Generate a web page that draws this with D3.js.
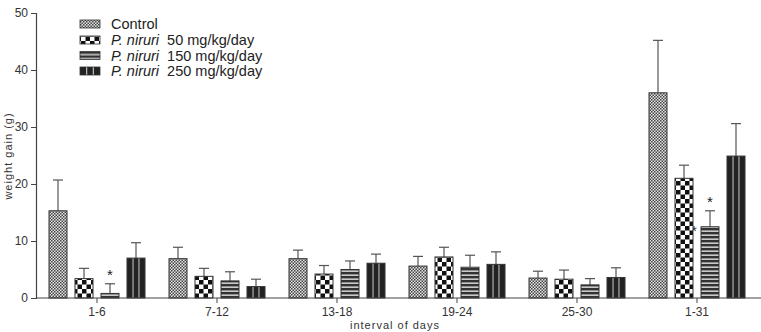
<!DOCTYPE html>
<html>
<head>
<meta charset="utf-8">
<script src="https://cdn.jsdelivr.net/npm/d3@7"></script>
<style>
  body { margin: 0; background: #fff; }
  svg { font-family: "Liberation Sans", Arial, sans-serif; }
</style>
</head>
<body>
<div id="chart"></div>
<script>
// data
var intervals = ["1-6", "7-12", "13-18", "19-24", "25-30", "1-31"]
var series = ["Control", "P50", "P150", "P250"]
var seriesLabels = [["", "Control"], ["P. niruri", " 50 mg/kg/day"], ["P. niruri", " 150 mg/kg/day"], ["P. niruri", " 250 mg/kg/day"]]
var control = [15.3, 6.9, 6.9, 5.6, 3.5, 36.0]
var p50 = [3.4, 3.8, 4.2, 7.2, 3.3, 21.0]
var p150 = [0.8, 3.0, 5.0, 5.4, 2.3, 12.5]
var p250 = [7.0, 2.0, 6.1, 5.9, 3.6, 24.9]
var controlErr = [5.4, 2.0, 1.5, 1.7, 1.2, 9.2]
var p50Err = [1.8, 1.4, 1.5, 1.7, 1.6, 2.3]
var p150Err = [1.7, 1.6, 1.5, 2.1, 1.1, 2.8]
var p250Err = [2.7, 1.3, 1.6, 2.2, 1.7, 5.7]
var yTicks = [0, 10, 20, 30, 40, 50]
// significance marks: [interval index, series index]
var stars = [[0, 2], [5, 2]]

var values = [control, p50, p150, p250]
var errs = [controlErr, p50Err, p150Err, p250Err]
var rows = []
intervals.forEach(function(iv, i) {
  series.forEach(function(s, j) {
    rows.push({ interval: iv, series: s, value: values[j][i], err: errs[j][i] })
  })
})

var W = 761, H = 332
var svg = d3.select("#chart").append("svg").attr("width", W).attr("height", H)
var defs = svg.append("defs")

// fill patterns
var pc = defs.append("pattern").attr("id", "pat-Control").attr("patternUnits", "userSpaceOnUse").attr("width", 3).attr("height", 3)
pc.append("rect").attr("width", 3).attr("height", 3).attr("fill", "#e4e4e4")
pc.append("rect").attr("width", 1.5).attr("height", 1.5).attr("fill", "#444")
pc.append("rect").attr("x", 1.5).attr("y", 1.5).attr("width", 1.5).attr("height", 1.5).attr("fill", "#444")

var p1 = defs.append("pattern").attr("id", "pat-P50").attr("patternUnits", "userSpaceOnUse").attr("width", 9).attr("height", 9).attr("x", 1).attr("y", 1)
p1.append("rect").attr("width", 9).attr("height", 9).attr("fill", "#fff")
p1.append("rect").attr("width", 4.5).attr("height", 4.5).attr("fill", "#111")
p1.append("rect").attr("x", 4.5).attr("y", 4.5).attr("width", 4.5).attr("height", 4.5).attr("fill", "#111")

var p2 = defs.append("pattern").attr("id", "pat-P150").attr("patternUnits", "userSpaceOnUse").attr("width", 4).attr("height", 4)
p2.append("rect").attr("width", 4).attr("height", 4).attr("fill", "#333")
p2.append("rect").attr("y", 2.5).attr("width", 4).attr("height", 1.3).attr("fill", "#eee")

var p3 = defs.append("pattern").attr("id", "pat-P250").attr("patternUnits", "objectBoundingBox").attr("patternContentUnits", "objectBoundingBox").attr("width", 1).attr("height", 1)
p3.append("rect").attr("width", 1).attr("height", 1).attr("fill", "#222")
p3.append("rect").attr("x", 0.31).attr("width", 0.05).attr("height", 1).attr("fill", "#ddd")
p3.append("rect").attr("x", 0.64).attr("width", 0.05).attr("height", 1).attr("fill", "#ddd")

var x0 = d3.scaleBand().domain(intervals).range([37, 757])
var x1 = d3.scaleBand().domain(series).range([-52, 52]).paddingInner(8 / 26).paddingOuter(4 / 26)
var y = d3.scaleLinear().domain([0, 50]).range([298, 13])

var center = function(d) { return x0(d.interval) + x0.bandwidth() / 2 + x1(d.series) + x1.bandwidth() / 2 }

// stars (drawn first so the bars may cover them)
var g_stars = svg.append("g")
stars.forEach(function(s) {
  var d = rows[s[0] * series.length + s[1]]
  g_stars.append("text").attr("x", center(d)).attr("y", y(d.value + d.err) - 4).attr("text-anchor", "middle")
    .attr("font-size", 15).attr("fill", "#222").text("*")
})
// partly hidden star next to the 1-31 150 mg bar
var d31 = rows[5 * series.length + 2]
g_stars.append("text").attr("x", center(d31) - 16).attr("y", y(d31.value) + 9).attr("text-anchor", "middle")
  .attr("font-size", 15).attr("fill", "#222").text("*")

// error bars
var g_err = svg.append("g").attr("stroke", "#555").attr("stroke-width", 1.2)
g_err.selectAll("line.v").data(rows).enter().append("line")
  .attr("x1", center).attr("x2", center)
  .attr("y1", function(d) { return y(d.value) }).attr("y2", function(d) { return y(d.value + d.err) })
g_err.selectAll("line.c").data(rows).enter().append("line")
  .attr("x1", function(d) { return center(d) - 5 }).attr("x2", function(d) { return center(d) + 5 })
  .attr("y1", function(d) { return y(d.value + d.err) }).attr("y2", function(d) { return y(d.value + d.err) })

// bars
svg.append("g").selectAll("rect").data(rows).enter().append("rect")
  .attr("x", function(d) { return center(d) - x1.bandwidth() / 2 })
  .attr("width", x1.bandwidth())
  .attr("y", function(d) { return y(d.value) })
  .attr("height", function(d) { return y(0) - y(d.value) })
  .attr("fill", function(d) { return "url(#pat-" + d.series + ")" })
  .attr("stroke", "#333").attr("stroke-width", 1)

// axes
var yAxis = svg.append("g").attr("transform", "translate(36,0)")
  .call(d3.axisLeft(y).tickValues(yTicks).tickSize(5).tickPadding(3))
yAxis.select(".domain").attr("stroke", "#444").attr("stroke-width", 1.2)
yAxis.selectAll(".tick line").attr("stroke", "#444")
yAxis.selectAll("text").attr("font-size", 12).attr("fill", "#333").attr("font-family", "Liberation Sans, Arial, sans-serif")

var xAxis = svg.append("g").attr("transform", "translate(0,298)")
  .call(d3.axisBottom(x0).tickSize(5).tickPadding(4).tickSizeOuter(0))
xAxis.select(".domain").attr("stroke", "#444").attr("stroke-width", 1.2).attr("d", "M36,0H761")
xAxis.selectAll(".tick line").attr("stroke", "#444")
xAxis.selectAll("text").attr("font-size", 12).attr("fill", "#333").attr("font-family", "Liberation Sans, Arial, sans-serif")

svg.append("text").attr("transform", "translate(12,156) rotate(-90)").attr("text-anchor", "middle")
  .attr("font-size", 11).attr("letter-spacing", 1).attr("fill", "#333").text("weight gain (g)")
svg.append("text").attr("x", 395).attr("y", 329).attr("text-anchor", "middle")
  .attr("font-size", 11).attr("letter-spacing", 1).attr("fill", "#333").text("interval of days")

// legend
var legendY = [24, 40, 55.5, 71]
var lg = svg.append("g").selectAll("g").data(series).enter().append("g")
  .attr("transform", function(d, i) { return "translate(80," + legendY[i] + ")" })
lg.append("rect").attr("y", -4).attr("width", 20).attr("height", 8)
  .attr("fill", function(d) { return "url(#pat-" + d + ")" }).attr("stroke", "#333").attr("stroke-width", 0.8)
var lt = lg.append("text").attr("x", 31).attr("y", 5).attr("font-size", 14.5).attr("fill", "#222")
lt.append("tspan").attr("font-style", "italic").text(function(d, i) { return seriesLabels[i][0] })
lt.append("tspan").attr("dx", function(d, i) { return i ? 4 : 0 }).text(function(d, i) { return seriesLabels[i][1] })
</script>
</body>
</html>
